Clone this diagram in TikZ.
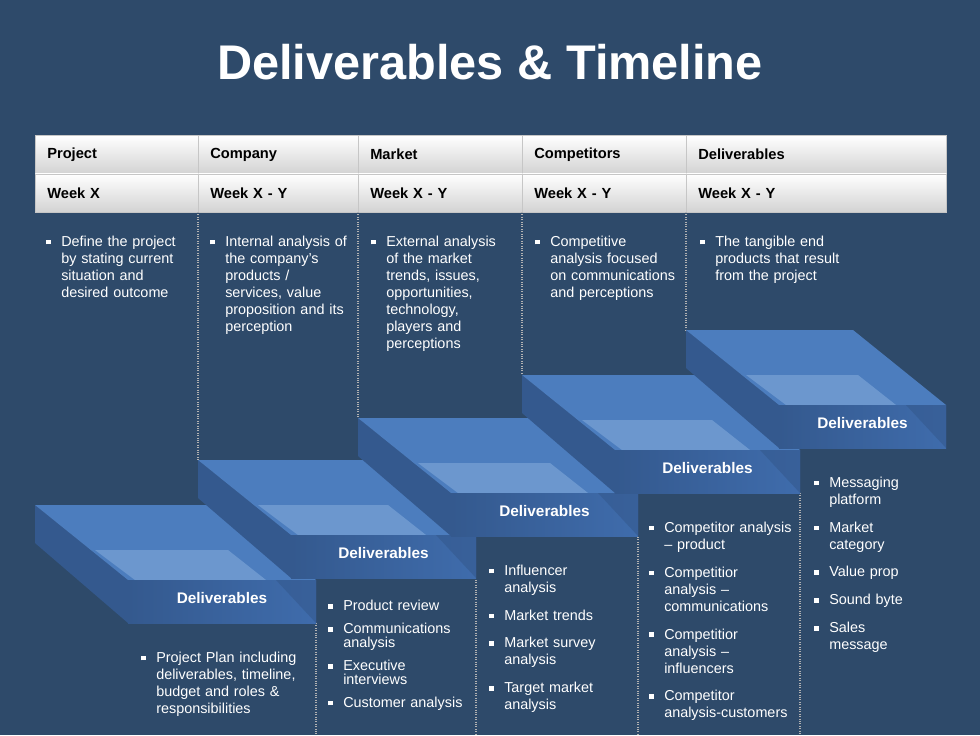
\documentclass[tikz,border=0pt]{standalone}
\usepackage{fontspec}
\setmainfont{Liberation Sans}
\usepackage{enumitem}
\definecolor{bgblue}{HTML}{2E4A6A}
\definecolor{slabtop}{HTML}{4C7DBE}
\definecolor{slabhi}{HTML}{7AA3D6}
\definecolor{slabfront}{HTML}{3F6CAC}
\definecolor{slabside}{HTML}{34598E}
\newcommand{\sqbul}{\rule[0.25ex]{3.5pt}{3.5pt}}
\newlist{bullets}{itemize}{1}
\setlist[bullets]{label=\sqbul,leftmargin=12pt,labelsep=8pt,topsep=0pt,partopsep=0pt,parsep=0pt}

\begin{document}
\begin{tikzpicture}[x=0.75pt,y=-0.75pt,
    headcell/.style={draw=gray!45, top color=white, bottom color=gray!35, anchor=north west,
                     minimum height=29pt, inner xsep=9pt, font=\bfseries\fontsize{11}{13}\selectfont, text=black, align=left},
    slabtext/.style={text=white, font=\bfseries\fontsize{11.5}{13}\selectfont},
    listbox/.style={anchor=north west, text=white, font=\fontsize{10.8}{12.8}\selectfont, inner sep=0pt},
    divider/.style={draw=gray!60, densely dotted, thick}]
  \fill[bgblue] (0,0) rectangle (980,735);
  \node[text=white, font=\bfseries\fontsize{36.5}{40}\selectfont] (title) at (490,62) {Deliverables \& Timeline};

  % header rows
  \foreach \nm/\x/\w/\top/\wk in {1/35/163/Project/Week X, 2/198/160/Company/Week X - Y,
                              3/358/164/Market/Week X - Y, 4/522/164/Competitors/Week X - Y,
                              5/686/260/Deliverables/Week X - Y} {
    \node[headcell, minimum width=\w*0.75pt, text width=\w*0.75pt-18pt] (h\nm) at (\x,135) {\top};
    \node[headcell, minimum width=\w*0.75pt, text width=\w*0.75pt-18pt] (w\nm) at (\x,173.5) {\wk};
  }

  % column dividers
  \foreach \x/\y in {198/460, 358/418, 522/375, 686/330}
    \draw[divider] (\x,212) -- (\x,\y);
  \foreach \x/\y in {316/623, 476/580, 638/537, 800/493}
    \draw[divider] (\x,\y) -- (\x,735);

  % slabs
  \foreach \nm/\X/\Y/\R in {1/35/505/316, 2/198/460/476, 3/358/418/638, 4/522/375/800, 5/686/330/946} {
    \fill[slabside] (\X,\Y) -- (\X+93,\Y+75) -- (\X+93,\Y+118) -- (\X,\Y+38) -- cycle;
    \fill[slabtop] (\X,\Y) -- (\R-93,\Y) -- (\R,\Y+75) -- (\X+93,\Y+75) -- cycle;
    \fill[slabhi, opacity=0.7] (\X+60,\Y+45) -- (\R-88,\Y+45) -- (\R-50,\Y+75) -- (\X+100,\Y+75) -- cycle;
    \fill[left color=slabside, right color=slabfront] (\X+93,\Y+75) rectangle (\R,\Y+118);
    \fill[slabside, opacity=0.6] (\R-40,\Y+75) -- (\R,\Y+75) -- (\R,\Y+118) -- cycle;
    \node[slabtext] (b\nm) at ({(\X+93+\R)/2},\Y+93) {Deliverables};
  }

  % upper descriptions
  \node[listbox, text width=102pt] (d1) at (45,229) {\begin{bullets}\item Define the project by stating current situation and desired outcome\end{bullets}};
  \node[listbox, text width=104pt] (d2) at (209,229) {\begin{bullets}\item Internal analysis of the company's products / services, value proposition and its perception\end{bullets}};
  \node[listbox, text width=97pt] (d3) at (370,229) {\begin{bullets}\item External analysis of the market trends, issues, opportunities, technology, players and perceptions\end{bullets}};
  \node[listbox, text width=108pt] (d4) at (534,229) {\begin{bullets}\item Competitive analysis focused on communications and perceptions\end{bullets}};
  \node[listbox, text width=106pt] (d5) at (699,229) {\begin{bullets}\item The tangible end products that result from the project\end{bullets}};

  % lower deliverables
  \node[listbox, text width=120pt] (l1) at (140,645) {\begin{bullets}\item Project Plan including deliverables, timeline, budget and roles \& responsibilities\end{bullets}};
  \node[listbox, text width=108pt] (l2) at (327,597) {\begin{bullets}[itemsep=7pt]\linespread{0.8}\selectfont
    \item Product review \item Communications analysis \item Executive interviews \item Customer analysis\end{bullets}};
  \node[listbox, text width=90pt] (l3) at (488,558) {\begin{bullets}[itemsep=8pt]
    \item Influencer analysis \item Market trends \item Market survey analysis \item Target market analysis\end{bullets}};
  \node[listbox, text width=108pt] (l4) at (648,515) {\begin{bullets}[itemsep=8pt]
    \item Competitor analysis -- product \item Competitior analysis -- communications \item Competitior analysis -- influencers \item Competitor analysis-customers\end{bullets}};
  \node[listbox, text width=84pt] (l5) at (813,470) {\begin{bullets}[itemsep=8pt]
    \item Messaging platform \item Market category \item Value prop \item Sound byte \item Sales message\end{bullets}};
\end{tikzpicture}
\end{document}
